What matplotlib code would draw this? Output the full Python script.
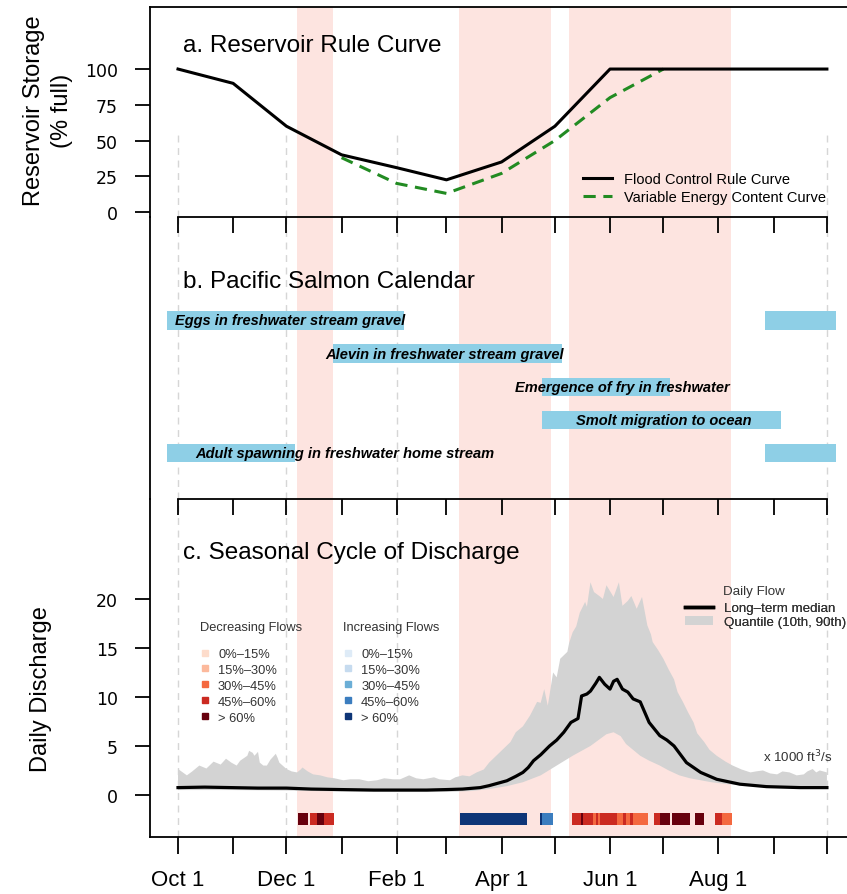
import matplotlib
matplotlib.use("Agg")
import matplotlib.pyplot as plt
from matplotlib.lines import Line2D
from matplotlib.patches import Patch
import numpy as np

plt.rcParams['font.family'] = ['Liberation Sans', 'DejaVu Sans']

# days counted from Oct 1 (water year)
month_days = [0, 31, 61, 92, 123, 151, 182, 212, 243, 273, 304, 335, 365]
month_labels = ['Oct 1', '', 'Dec 1', '', 'Feb 1', '', 'Apr 1', '', 'Jun 1', '', 'Aug 1', '', '']
grid_days = [0, 61, 123, 182, 243, 304, 365]

# shaded periods
pink_bands = [(67, 87), (158, 210), (220, 311)]

# a. reservoir rule curves (% full)
frc_days = [0, 31, 61, 92, 123, 151, 182, 212, 243, 365]
frc_vals = [100, 90, 60, 40, 31, 22.5, 35, 60, 100, 100]
vec_days = [92, 123, 151, 182, 212, 243, 273]
vec_vals = [38, 20, 13, 27, 50, 80, 100]

# b. salmon calendar
stages = ['Eggs in freshwater stream gravel',
          'Alevin in freshwater stream gravel',
          'Emergence of fry in freshwater',
          'Smolt migration to ocean',
          'Adult spawning in freshwater home stream']
stage_spans = [[(-6, 127), (330, 370)],
               [(87, 216)],
               [(205, 277)],
               [(205, 339)],
               [(-6, 66), (330, 370)]]
stage_label_day = [63, 150, 250, 273, 94]

# c. discharge (x 1000 cfs)
med_days = [0, 15, 30, 45, 61, 75, 92, 110, 123, 140, 151, 160, 170, 175, 180, 185,
            190, 194, 197, 200, 204, 209, 213, 217, 221, 225, 227, 230, 232, 235, 237,
            240, 243, 245, 247, 250, 253, 256, 260, 265, 271, 275, 279, 286, 294, 303,
            316, 331, 350, 365]
med_vals = [0.75, 0.8, 0.75, 0.7, 0.7, 0.6, 0.55, 0.5, 0.5, 0.5, 0.55, 0.6, 0.75, 0.95,
            1.2, 1.45, 1.9, 2.3, 2.8, 3.5, 4.1, 5.0, 5.6, 6.4, 7.4, 7.8, 10.1, 10.3, 10.6,
            11.4, 12.0, 11.3, 10.8, 11.6, 11.8, 10.8, 10.5, 9.8, 9.5, 7.4, 6.05, 5.6, 5.0,
            3.3, 2.3, 1.6, 1.1, 0.85, 0.75, 0.75]

q90_days = [0, 5, 8, 12, 16, 20, 24, 27, 30, 33, 35, 39, 40, 42, 43, 45, 46, 48, 50, 52,
            55, 56, 57, 61, 64, 67, 69, 70, 73, 76, 80, 84, 88, 93, 97, 102, 107, 112, 116,
            121, 125, 130, 134, 138, 144, 147, 153, 156, 160, 164, 168, 172, 175, 179, 183,
            187, 190, 194, 198, 202, 204, 206, 208, 211, 213, 215, 219, 220, 222, 224, 226,
            229, 230, 232, 234, 237, 239, 241, 245, 248, 250, 253, 255, 258, 261, 264, 266,
            267, 270, 273, 276, 279, 281, 284, 287, 290, 292, 296, 299, 303, 308, 312, 317,
            322, 325, 329, 333, 337, 340, 344, 348, 352, 354, 357, 359, 361, 365]
q90_vals = [2.65, 2.0, 2.4, 3.0, 2.7, 3.4, 3.1, 3.7, 3.3, 3.0, 3.5, 4.0, 4.5, 4.3, 4.0, 4.4,
            3.3, 3.0, 3.0, 3.6, 4.2, 3.8, 3.3, 2.65, 2.4, 2.3, 2.6, 2.8, 2.4, 2.1, 2.0, 1.8,
            1.7, 1.5, 1.6, 1.6, 1.4, 1.5, 1.7, 1.6, 1.6, 2.0, 1.7, 1.6, 1.8, 1.6, 1.5, 1.8,
            2.0, 1.9, 2.3, 2.6, 3.3, 4.0, 4.7, 5.4, 6.4, 7.0, 8.1, 9.5, 9.4, 10.8, 9.1, 12.5,
            12.0, 13.9, 14.6, 15.5, 16.6, 17.2, 18.6, 19.7, 19.2, 21.7, 20.7, 20.3, 20.0,
            21.4, 20.2, 21.7, 19.3, 19.8, 20.3, 19.0, 20.2, 17.3, 16.4, 15.6, 14.8, 13.9,
            12.8, 11.8, 10.5, 9.5, 8.4, 7.4, 6.3, 5.4, 4.6, 4.0, 3.4, 3.0, 2.6, 2.3, 2.4,
            2.5, 2.2, 2.1, 2.4, 2.3, 2.0, 2.1, 2.4, 2.65, 2.3, 2.5, 2.3]

q10_days = [0, 30, 61, 92, 123, 151, 165, 175, 185, 194, 204, 213, 222, 232, 241, 245, 249,
            252, 256, 260, 265, 271, 276, 282, 288, 294, 300, 309, 320, 331, 345, 365]
q10_vals = [0.5, 0.5, 0.45, 0.35, 0.3, 0.3, 0.4, 0.6, 0.9, 1.3, 2.0, 3.0, 4.0, 5.0, 6.2,
            6.4, 6.0, 5.2, 4.6, 4.0, 3.5, 3.0, 2.5, 2.0, 1.7, 1.5, 1.3, 1.1, 0.95, 0.8,
            0.75, 0.7]

# flow change classes shown as strip: (start day, end day, class index)
dec_segments = [(67.7, 73.0, 4), (74.2, 78.0, 3), (78.0, 82.3, 4), (82.3, 87.7, 3),
                (221.8, 226.7, 3), (226.7, 228.0, 4), (228.0, 233.6, 3), (233.6, 235.1, 2),
                (235.1, 236.4, 3), (236.4, 237.3, 2), (237.3, 241.1, 3), (241.1, 246.7, 3),
                (246.7, 250.4, 2), (250.4, 251.8, 3), (251.8, 254.2, 2), (254.2, 255.7, 3),
                (255.7, 264.5, 2), (267.7, 271.1, 3), (271.1, 276.7, 4), (277.7, 288.0, 4),
                (290.8, 295.8, 4), (302.0, 305.8, 3), (305.8, 311.8, 2)]
inc_segments = [(158.6, 196.1, 4), (203.6, 204.6, 4), (204.6, 211.0, 3)]

class_labels = ['0%\u201315%', '15%\u201330%', '30%\u201345%', '45%\u201360%', '> 60%']
reds = ['#fddccb', '#fcb99c', '#f4683f', '#cb2a21', '#67000d']
blues = ['#deebf7', '#c6dbef', '#6baed6', '#3b7dbf', '#0e3577']

PINK = '#fde4e0'
GRID = '#d6d6d6'
BAR_BLUE = '#8ecfe6'
GREEN = '#228b22'
LW_AX = 1.3

XMIN, XMAX = -15.75, 376.3

fig = plt.figure(figsize=(8.47, 8.95), dpi=100)
L, W = 150 / 847, 697 / 847
axa = fig.add_axes([L, 1 - 218 / 895, W, 210 / 895])
axb = fig.add_axes([L, 1 - 500 / 895, W, 282 / 895])
axc = fig.add_axes([L, 1 - 838 / 895, W, 338 / 895])

# upper panels on top so their downward ticks show over the next panel
for z, ax in zip((3, 2, 1), (axa, axb, axc)):
    ax.set_zorder(z)
    ax.patch.set_visible(False)
    ax.set_xlim(XMIN, XMAX)
    ax.set_xticks(month_days)
    ax.spines['right'].set_visible(False)
    for s in ax.spines.values():
        s.set_linewidth(LW_AX)
    ax.tick_params(axis='x', direction='out', length=11.5, width=LW_AX)
    for s, e in pink_bands:
        ax.axvspan(s, e, color=PINK, lw=0, zorder=0.5)

# ---- a. Reservoir rule curve
axa.set_ylim(-3.5, 143.4)
axa.vlines(grid_days, -3.5, 56, colors=GRID, linestyles=(0, (5, 4)), lw=1, zorder=0)
axa.plot(frc_days, frc_vals, color='black', lw=2.2, zorder=3,
         label='Flood Control Rule Curve')
axa.plot(vec_days, vec_vals, color=GREEN, lw=2.2, ls=(0, (4, 2.5)), zorder=2,
         label='Variable Energy Content Curve')
axa.spines['bottom'].set_bounds(0, 365)
axa.set_xticklabels([])
axa.set_yticks([0, 25, 50, 75, 100])
axa.text(0.047, 0.818, 'a. Reservoir Rule Curve', transform=axa.transAxes,
         fontsize=17.5, va='center', ha='left')
axa.legend(loc='upper left', bbox_to_anchor=(0.621, 0.215), frameon=False, fontsize=10.5,
           handlelength=2.0, handletextpad=0.8, labelspacing=0.3, borderpad=0,
           borderaxespad=0)
axa.set_ylabel('Reservoir Storage\n(% full)', fontsize=17, linespacing=1.35)
axa.yaxis.set_label_coords(-0.11, 0.51)

# ---- b. Salmon calendar
axb.set_ylim(5.39, -3.12)
axb.spines['top'].set_visible(False)
axb.spines['bottom'].set_bounds(0, 365)
axb.set_xticklabels([])
axb.set_yticks([])
for d in grid_days:
    axb.axvline(d, color=GRID, ls=(0, (5, 4)), lw=1, zorder=0)
for i, (name, spans, xl) in enumerate(zip(stages, stage_spans, stage_label_day)):
    axb.broken_barh([(s, e - s) for s, e in spans], (i - 0.275, 0.55),
                    facecolors=BAR_BLUE, zorder=2)
    axb.text(xl, i, name, ha='center', va='center', fontsize=10.5,
             fontweight='bold', fontstyle='italic', zorder=3)
axb.text(0.047, 0.773, 'b. Pacific Salmon Calendar', transform=axb.transAxes,
         fontsize=17.5, va='center', ha='left')

# ---- c. Discharge
axc.set_ylim(-4.29, 30.2)
axc.spines['top'].set_visible(False)
for d in grid_days:
    axc.axvline(d, color=GRID, ls=(0, (5, 4)), lw=1, zorder=0)
axc.fill(np.concatenate([q90_days, q10_days[::-1]]),
         np.concatenate([q90_vals, q10_vals[::-1]]),
         color='#d3d3d3', lw=0, zorder=1)
axc.plot(med_days, med_vals, color='black', lw=2.3, zorder=3)
for s, e, k in dec_segments:
    axc.broken_barh([(s, e - s)], (-3.06, 1.22), facecolors=reds[k], zorder=2)
for s, e, k in inc_segments:
    axc.broken_barh([(s, e - s)], (-3.06, 1.22), facecolors=blues[k], zorder=2)
axc.set_xticklabels(month_labels, fontsize=16)
axc.tick_params(axis='x', length=12, pad=11)
axc.set_yticks([0, 5, 10, 15, 20])
axc.text(0.047, 0.843, 'c. Seasonal Cycle of Discharge', transform=axc.transAxes,
         fontsize=17.5, va='center', ha='left')
axc.set_ylabel('Daily Discharge', fontsize=17)
axc.yaxis.set_label_coords(-0.1406, 0.44)

# flow-change legends: title as own text so the gap matches
for cols, title, xa in ((reds, 'Decreasing Flows', 0.0717), (blues, 'Increasing Flows', 0.277)):
    hs = [Line2D([], [], marker='s', ls='none', color=c, markersize=5) for c in cols]
    lg = axc.legend(hs, class_labels, loc='upper left',
                    bbox_to_anchor=(xa, 0.559), frameon=False, fontsize=9.3,
                    handlelength=0.8, handletextpad=0.6,
                    labelspacing=0.3, borderpad=0, borderaxespad=0,
                    labelcolor='#333333')
    axc.add_artist(lg)
    axc.text(xa, 0.621, title, transform=axc.transAxes, fontsize=9.3,
             color='#333333', va='center', ha='left')

flow_handles = [Line2D([], [], color='black', lw=2.5), Patch(color='#d3d3d3', lw=0)]
lg = axc.legend(flow_handles, ['Long\u2013term median', 'Quantile (10th, 90th)'],
                loc='upper left', bbox_to_anchor=(0.7676, 0.695), frameon=False,
                fontsize=9.6, handlelength=2.1, handletextpad=0.85, labelspacing=0.12,
                borderpad=0, borderaxespad=0, labelcolor='#333333')
axc.add_artist(lg)
axc.text(0.822, 0.728, 'Daily Flow', transform=axc.transAxes, fontsize=9.6,
         color='#333333', va='center', ha='left')
axc.text(0.8795, 0.2396, 'x 1000 ft$^3$/s', transform=axc.transAxes, fontsize=9.6,
         color='#333333', va='center', ha='left')

for ax in (axa, axc):
    ax.tick_params(axis='y', direction='out', length=11, width=LW_AX, pad=12, labelsize=12.5)
    for t in ax.get_yticklabels():
        t.set_fontfamily('DejaVu Sans')

fig.savefig('out.png', dpi=100)
